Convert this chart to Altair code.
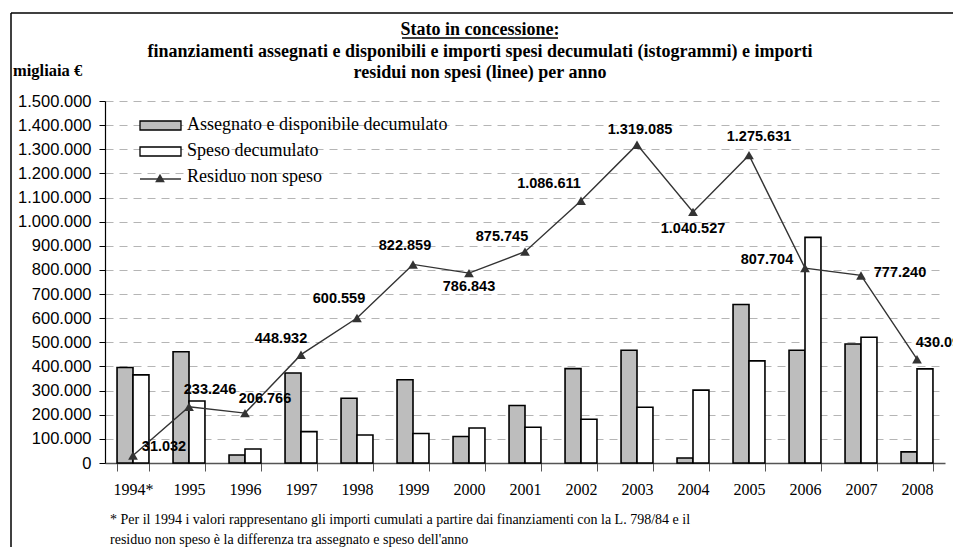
import altair as alt
import pandas as pd

# ---------------- data ----------------
years = ["1994*", "1995", "1996", "1997", "1998", "1999", "2000", "2001",
         "2002", "2003", "2004", "2005", "2006", "2007", "2008"]
assegnato = [396000, 461000, 33000, 373000, 268000, 345000, 110000, 238000,
             391000, 467000, 21000, 657000, 467000, 493000, 46000]
speso = [365000, 257000, 58000, 130000, 116000, 122000, 145000, 148000,
         181000, 231000, 302000, 423000, 935000, 521000, 390000]
residuo = [31032, 233246, 206766, 448932, 600559, 822859, 786843, 875745,
           1086611, 1319085, 1040527, 1275631, 807704, 777240, 430090]
series_names = ["Assegnato e disponibile decumulato", "Speso decumulato"]
line_name = "Residuo non speso"
y_ticks = list(range(0, 1500001, 100000))

title_lines = [
    "Stato in concessione:",
    "finanziamenti assegnati e disponibili e importi spesi decumulati (istogrammi) e importi",
    "residui non spesi (linee) per anno",
]
unit_label = "migliaia €"
footnote = [
    "* Per il 1994 i valori rappresentano gli importi cumulati a partire dai finanziamenti con la L. 798/84 e il",
    "residuo non speso è la differenza tra assegnato e speso dell'anno",
]

# label nudges (pixels) for the value labels of the line
nudges = {
    "1994*": (31, -9), "1995": (21, -17), "1996": (20, -14), "1997": (-20, -16),
    "1998": (-18, -19), "1999": (-8, -18), "2000": (0, 14), "2001": (-23, -15),
    "2002": (-32, -17), "2003": (3, -15), "2004": (0, 17), "2005": (10, -18),
    "2006": (-38, -8), "2007": (39, -2), "2008": (25, -16),
}

bars_df = pd.DataFrame({
    "year": years * 2,
    "serie": [series_names[0]] * len(years) + [series_names[1]] * len(years),
    "value": assegnato + speso,
})
line_df = pd.DataFrame({"year": years, "residuo": residuo})

SERIF = "Liberation Serif"
SANS = "Liberation Sans"

x_scale = alt.Scale(domain=years, paddingInner=0.43, paddingOuter=0.215)
y_scale = alt.Scale(domain=[0, 1500000], nice=False)

x_axis = alt.Axis(title=None, labelFont=SERIF, labelFontSize=16, labelColor="black",
                  labelAngle=0, tickBand="extent", tickSize=8, tickColor="#555",
                  domainColor="#555", domainWidth=1.5, labelPadding=10, grid=False)
y_axis = alt.Axis(title=None, values=y_ticks,
                  labelExpr="replace(format(datum.value, ',d'), /,/g, '.')",
                  labelFont=SANS,
                  labelFontSize=16.5, labelColor="black", tickColor="black",
                  tickSize=6, domainColor="black", domainWidth=1.2, labelPadding=8,
                  labelOverlap=False, labelFlush=False,
                  grid=True, gridColor="#b5b5b5", gridDash=[8, 6], gridWidth=1)

bars = alt.Chart(bars_df).mark_bar(stroke="black", strokeWidth=1.6).encode(
    x=alt.X("year:N", scale=x_scale, axis=x_axis, sort=years),
    xOffset=alt.XOffset("serie:N", sort=series_names),
    y=alt.Y("value:Q", scale=y_scale, axis=y_axis),
    fill=alt.Fill("serie:N", scale=alt.Scale(domain=series_names, range=["#bdbdbd", "white"]),
                  legend=None),
)

base_line = alt.Chart(line_df).encode(
    x=alt.X("year:N", scale=x_scale, axis=x_axis, sort=years),
    y=alt.Y("residuo:Q", scale=y_scale, axis=y_axis),
)
line = base_line.mark_line(color="#333333", strokeWidth=1.4)
pts = base_line.mark_point(shape="triangle-up", filled=True, size=95, color="#333333", opacity=1)

label_layers = []
for yr in years:
    dx, dy = nudges[yr]
    label_layers.append(
        base_line.transform_filter(alt.datum.year == yr).mark_text(
            dx=dx, dy=dy, align="center", baseline="middle", font=SANS,
            fontSize=14.5, fontWeight="bold", color="black"
        ).encode(text=alt.Text("residuo:Q", format=","))
    )

one = alt.Data(values=[{}])

def txt(s, x, y, size, bold=False, align="left", font=SERIF, baseline="alphabetic"):
    return alt.Chart(one).mark_text(
        align=align, baseline=baseline, font=font, fontSize=size,
        fontWeight="bold" if bold else "normal", color="black"
    ).encode(x=alt.value(x), y=alt.value(y), text=alt.value(s))

# frame (outer border)
frame_left = alt.Chart(one).mark_rule(color="black", strokeWidth=1.5).encode(
    x=alt.value(-94), y=alt.value(-88), y2=alt.value(470))
frame_top = alt.Chart(one).mark_rule(color="black", strokeWidth=1.5).encode(
    x=alt.value(-94), x2=alt.value(900), y=alt.value(-88))

# titles
t1 = txt(title_lines[0], 375, -66, 18, bold=True, align="center")
underline = alt.Chart(one).mark_rule(color="black", strokeWidth=1.3).encode(
    x=alt.value(297), x2=alt.value(453), y=alt.value(-63))
t2 = txt(title_lines[1], 375, -44, 18, bold=True, align="center")
t3 = txt(title_lines[2], 375, -23, 18, bold=True, align="center")
unit = txt(unit_label, -92, -25, 16.5, bold=True, align="left")

# legend
leg_r1 = alt.Chart(one).mark_rect(fill="#bdbdbd", stroke="black", strokeWidth=1.3).encode(
    x=alt.value(35), x2=alt.value(76), y=alt.value(20), y2=alt.value(29))
leg_r2 = alt.Chart(one).mark_rect(fill="white", stroke="black", strokeWidth=1.3).encode(
    x=alt.value(35), x2=alt.value(76), y=alt.value(46), y2=alt.value(55))
leg_line = alt.Chart(one).mark_rule(color="#333333", strokeWidth=1.4).encode(
    x=alt.value(35), x2=alt.value(76), y=alt.value(78))
leg_tri = alt.Chart(one).mark_point(shape="triangle-up", filled=True, size=95,
                                    color="#333333", opacity=1).encode(
    x=alt.value(55), y=alt.value(77))
leg_t1 = txt(series_names[0], 82, 24, 18, baseline="middle")
leg_t2 = txt(series_names[1], 82, 50, 18, baseline="middle")
leg_t3 = txt(line_name, 82, 76, 18, baseline="middle")

# footnote
f1 = txt(footnote[0], 5, 423, 14)
f2 = txt(footnote[1], 5, 443, 14)

chart = alt.layer(
    bars, line, pts, *label_layers,
    frame_left, frame_top, t1, underline, t2, t3, unit,
    leg_r1, leg_r2, leg_line, leg_tri, leg_t1, leg_t2, leg_t3, f1, f2,
).properties(
    width=840, height=362,
    autosize=alt.AutoSizeParams(type="none"),
    padding={"left": 97, "top": 93, "right": 8, "bottom": 84},
    background="white",
).configure(
    locale={"number": {"decimal": ",", "thousands": ".", "grouping": [3],
                       "currency": ["€", ""]}}
).configure_view(stroke=None)

chart.save("out.html", embed_options={"renderer": "svg", "actions": False})
